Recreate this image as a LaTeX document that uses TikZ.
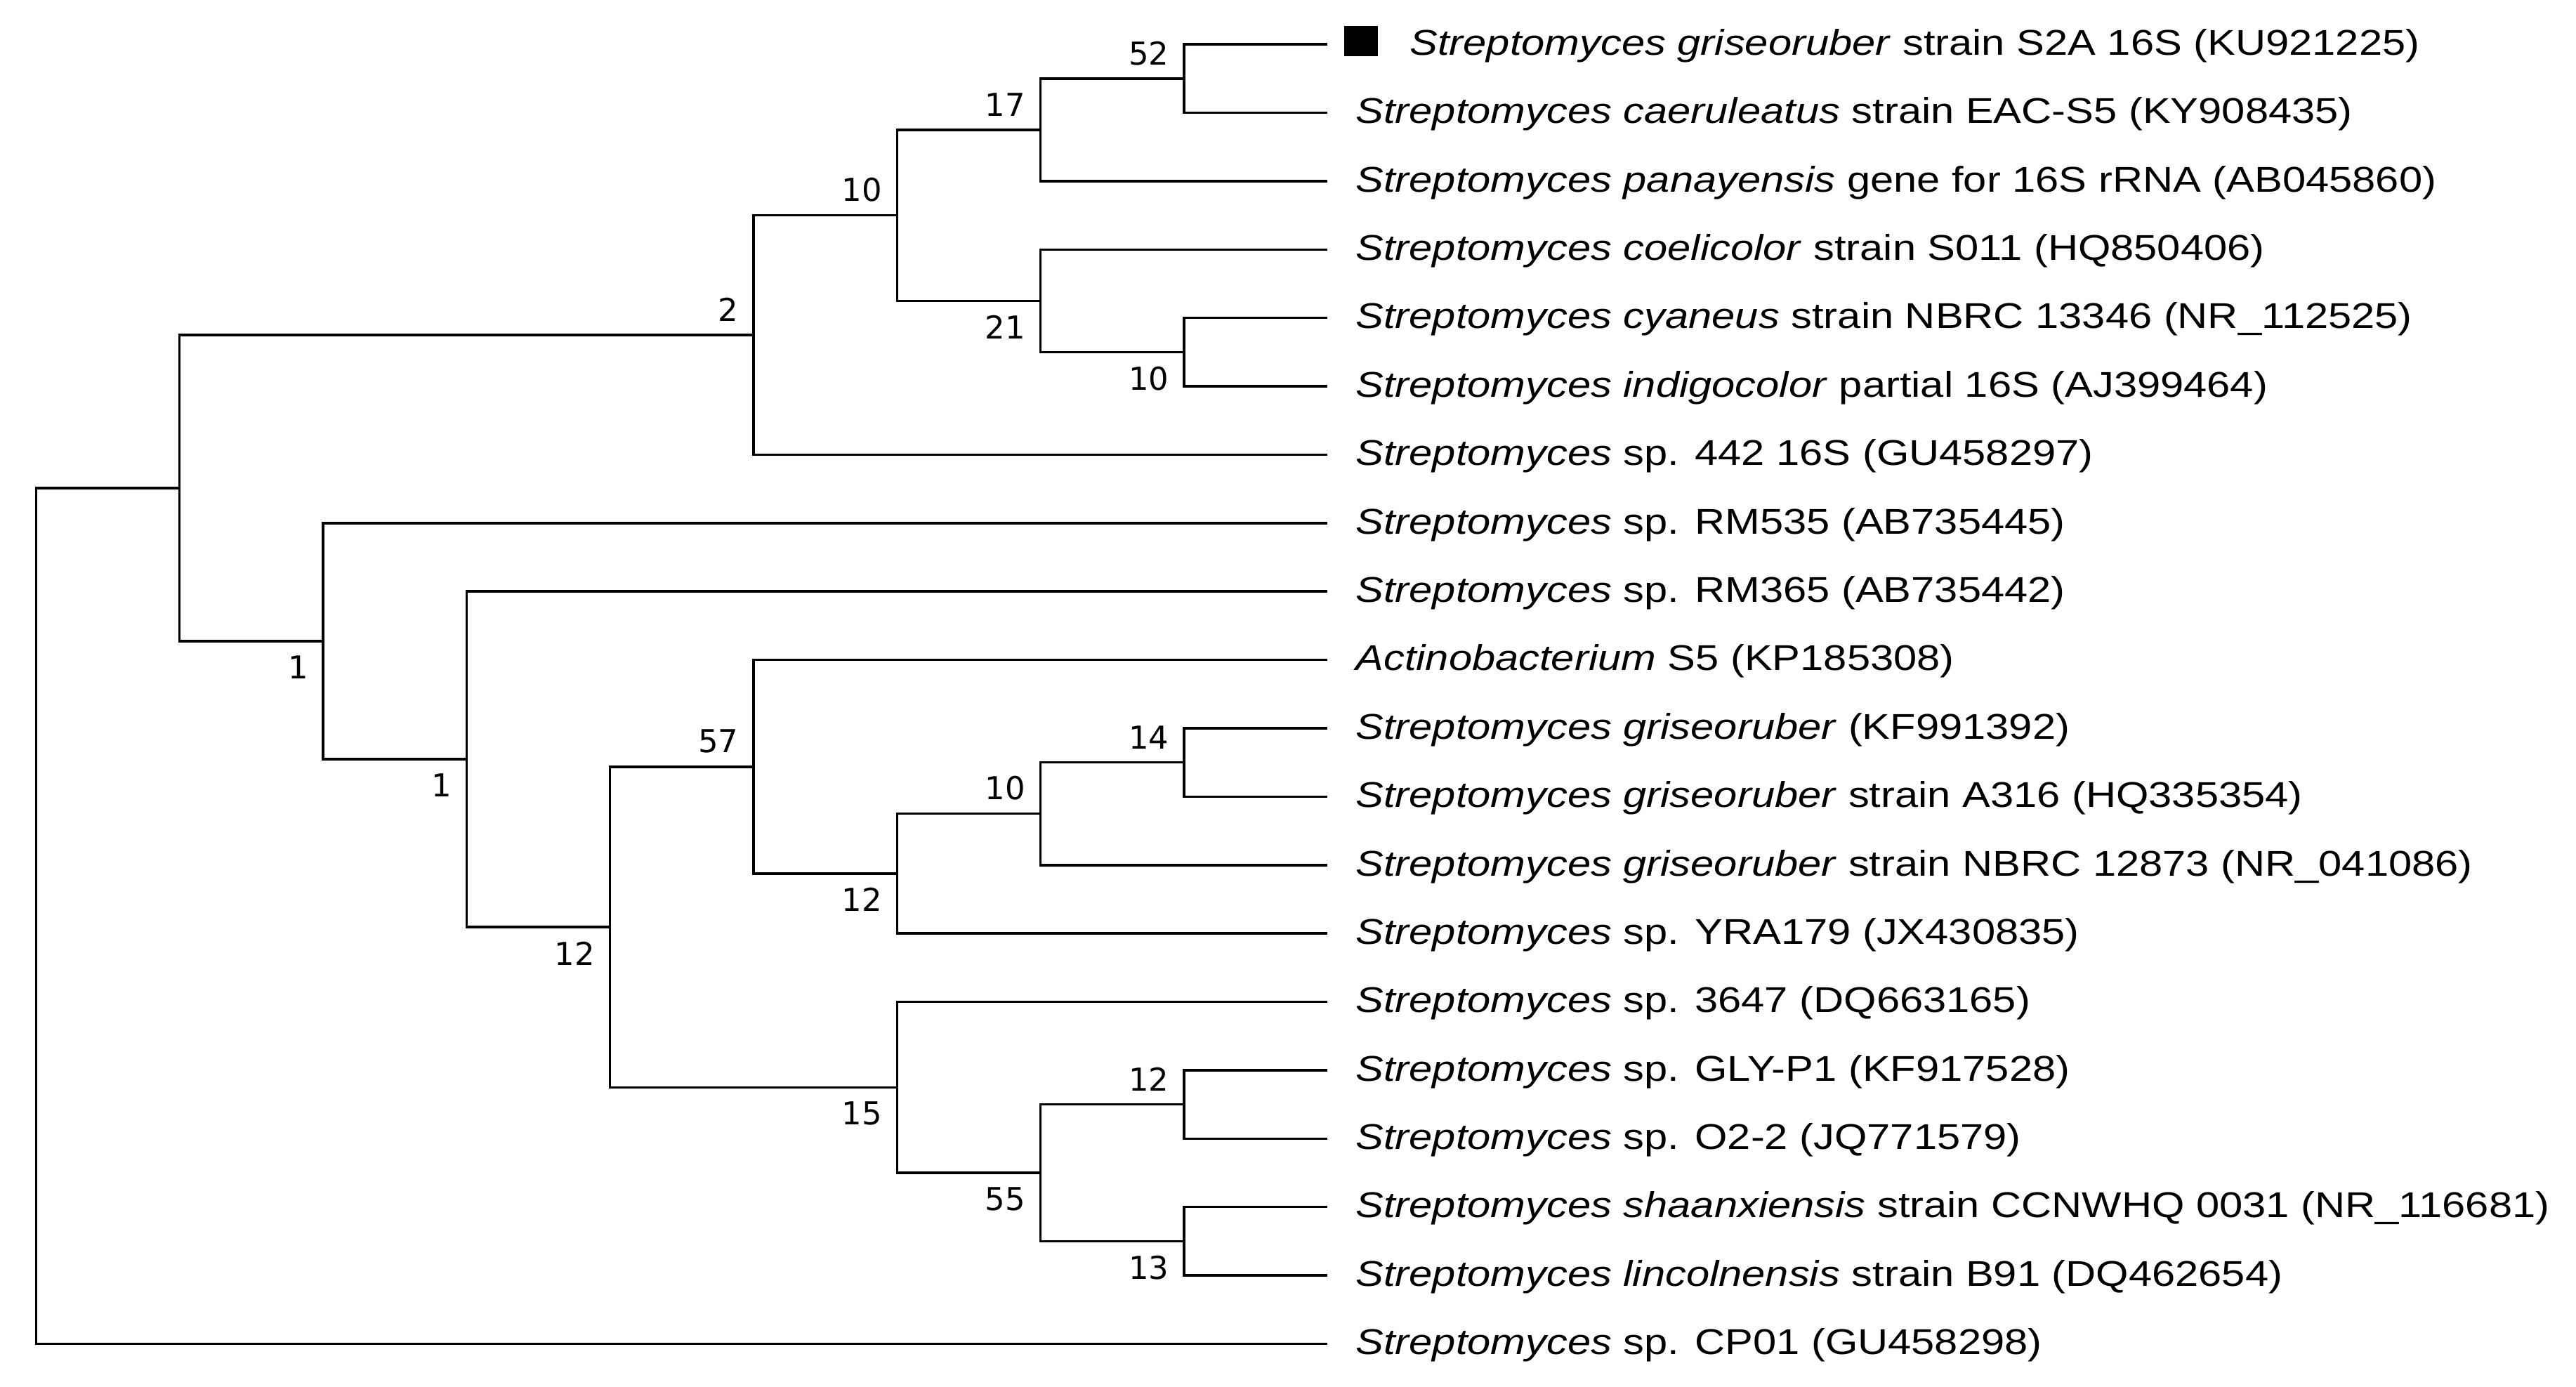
\documentclass[tikz,border=0pt]{standalone}
\usepackage{fontspec}
\usepackage{tikz}
\usetikzlibrary{calc}

\newfontfamily\leaffont[FakeStretch=1.17]{Liberation Sans}
\newfontfamily\bsfont{DejaVu Sans}

\tikzset{
  branch/.style={line width=1.5pt, black},
  leaf/.style={anchor=base west, inner sep=0pt, font=\leaffont\fontsize{21.8}{26}\selectfont},
  bs/.style={inner sep=0pt, font=\bsfont\fontsize{19.2}{22}\selectfont},
  bs above/.style={bs, anchor=south east, xshift=-9pt, yshift=8pt},
  bs below/.style={bs, anchor=north east, xshift=-9pt, yshift=-8.6pt},
  sqbox/.style={fill=black, inner sep=0pt, minimum width=20.7pt, minimum height=18pt}
}

\begin{document}
\begin{tikzpicture}[x=1pt,y=-1pt]
\useasboundingbox (0,0) rectangle (1568,844);

% Leaf ends
\coordinate (l1) at (808,27.0);
\coordinate (l2) at (808,68.6);
\coordinate (l3) at (808,110.3);
\coordinate (l4) at (808,151.9);
\coordinate (l5) at (808,193.5);
\coordinate (l6) at (808,235.2);
\coordinate (l7) at (808,276.8);
\coordinate (l8) at (808,318.4);
\coordinate (l9) at (808,360.0);
\coordinate (l10) at (808,401.7);
\coordinate (l11) at (808,443.3);
\coordinate (l12) at (808,484.9);
\coordinate (l13) at (808,526.6);
\coordinate (l14) at (808,568.2);
\coordinate (l15) at (808,609.8);
\coordinate (l16) at (808,651.5);
\coordinate (l17) at (808,693.1);
\coordinate (l18) at (808,734.7);
\coordinate (l19) at (808,776.3);
\coordinate (l20) at (808,818.0);

% Internal nodes
\coordinate (root) at (22,557.5);
\coordinate (nA) at (109.3,297.1);
\coordinate (n2) at (458.7,203.9);
\coordinate (n10a) at (546,131.1);
\coordinate (n17) at (633.3,79.0);
\coordinate (n52) at (720.7,47.8);
\coordinate (n21) at (633.3,183.1);
\coordinate (n10b) at (720.7,214.3);
\coordinate (n1a) at (196.7,390.3);
\coordinate (n1b) at (284,462.2);
\coordinate (n12a) at (371.3,564.3);
\coordinate (n57) at (458.7,466.7);
\coordinate (n12b) at (546,531.8);
\coordinate (n10c) at (633.3,495.3);
\coordinate (n14) at (720.7,464.1);
\coordinate (n15) at (546,661.9);
\coordinate (n55) at (633.3,713.9);
\coordinate (n12c) at (720.7,672.3);
\coordinate (n13) at (720.7,755.5);

% Branches
\draw[branch] (root) |- (nA) (root) |- (l20);
\draw[branch] (nA) |- (n2) (nA) |- (n1a);
\draw[branch] (n2) |- (n10a) (n2) |- (l7);
\draw[branch] (n10a) |- (n17) (n10a) |- (n21);
\draw[branch] (n17) |- (n52) (n17) |- (l3);
\draw[branch] (n52) |- (l1) (n52) |- (l2);
\draw[branch] (n21) |- (l4) (n21) |- (n10b);
\draw[branch] (n10b) |- (l5) (n10b) |- (l6);
\draw[branch] (n1a) |- (l8) (n1a) |- (n1b);
\draw[branch] (n1b) |- (l9) (n1b) |- (n12a);
\draw[branch] (n12a) |- (n57) (n12a) |- (n15);
\draw[branch] (n57) |- (l10) (n57) |- (n12b);
\draw[branch] (n12b) |- (n10c) (n12b) |- (l14);
\draw[branch] (n10c) |- (n14) (n10c) |- (l13);
\draw[branch] (n14) |- (l11) (n14) |- (l12);
\draw[branch] (n15) |- (l15) (n15) |- (n55);
\draw[branch] (n55) |- (n12c) (n55) |- (n13);
\draw[branch] (n12c) |- (l16) (n12c) |- (l17);
\draw[branch] (n13) |- (l18) (n13) |- (l19);

% Bootstrap values
\node[bs above] (b52) at (n52) {52};
\node[bs above] (b17) at (n17) {17};
\node[bs above] (b10a) at (n10a) {10};
\node[bs above] (b2) at (n2) {2};
\node[bs below] (b21) at (n21) {21};
\node[bs below] (b10b) at (n10b) {10};
\node[bs below] (b1a) at (n1a) {1};
\node[bs below] (b1b) at (n1b) {1};
\node[bs below] (b12a) at (n12a) {12};
\node[bs above] (b57) at (n57) {57};
\node[bs below] (b12b) at (n12b) {12};
\node[bs above] (b10c) at (n10c) {10};
\node[bs above] (b14) at (n14) {14};
\node[bs below] (b15) at (n15) {15};
\node[bs below] (b55) at (n55) {55};
\node[bs above] (b12c) at (n12c) {12};
\node[bs below] (b13) at (n13) {13};

% Marked strain
\node[sqbox] (sq) at (828.4,25) {};

% Taxon labels
\node[leaf] (t1) at ([shift={(19,6.5)}]sq.east |- l1) {\textit{Streptomyces griseoruber} strain S2A 16S (KU921225)};
\node[leaf] (t2) at ([shift={(17,6.5)}]l2) {\textit{Streptomyces caeruleatus} strain EAC-S5 (KY908435)};
\node[leaf] (t3) at ([shift={(17,6.5)}]l3) {\textit{Streptomyces panayensis} gene for 16S rRNA (AB045860)};
\node[leaf] (t4) at ([shift={(17,6.5)}]l4) {\textit{Streptomyces coelicolor} strain S011 (HQ850406)};
\node[leaf] (t5) at ([shift={(17,6.5)}]l5) {\textit{Streptomyces cyaneus} strain NBRC 13346 (NR\_112525)};
\node[leaf] (t6) at ([shift={(17,6.5)}]l6) {\textit{Streptomyces indigocolor} partial 16S (AJ399464)};
\node[leaf] (t7) at ([shift={(17,6.5)}]l7) {\textit{Streptomyces} sp. 442 16S (GU458297)};
\node[leaf] (t8) at ([shift={(17,6.5)}]l8) {\textit{Streptomyces} sp. RM535 (AB735445)};
\node[leaf] (t9) at ([shift={(17,6.5)}]l9) {\textit{Streptomyces} sp. RM365 (AB735442)};
\node[leaf] (t10) at ([shift={(17,6.5)}]l10) {\textit{Actinobacterium} S5 (KP185308)};
\node[leaf] (t11) at ([shift={(17,6.5)}]l11) {\textit{Streptomyces griseoruber} (KF991392)};
\node[leaf] (t12) at ([shift={(17,6.5)}]l12) {\textit{Streptomyces griseoruber} strain A316 (HQ335354)};
\node[leaf] (t13) at ([shift={(17,6.5)}]l13) {\textit{Streptomyces griseoruber} strain NBRC 12873 (NR\_041086)};
\node[leaf] (t14) at ([shift={(17,6.5)}]l14) {\textit{Streptomyces} sp. YRA179 (JX430835)};
\node[leaf] (t15) at ([shift={(17,6.5)}]l15) {\textit{Streptomyces} sp. 3647 (DQ663165)};
\node[leaf] (t16) at ([shift={(17,6.5)}]l16) {\textit{Streptomyces} sp. GLY-P1 (KF917528)};
\node[leaf] (t17) at ([shift={(17,6.5)}]l17) {\textit{Streptomyces} sp. O2-2 (JQ771579)};
\node[leaf] (t18) at ([shift={(17,6.5)}]l18) {\textit{Streptomyces shaanxiensis} strain CCNWHQ 0031 (NR\_116681)};
\node[leaf] (t19) at ([shift={(17,6.5)}]l19) {\textit{Streptomyces lincolnensis} strain B91 (DQ462654)};
\node[leaf] (t20) at ([shift={(17,6.5)}]l20) {\textit{Streptomyces} sp. CP01 (GU458298)};
\end{tikzpicture}
\end{document}
